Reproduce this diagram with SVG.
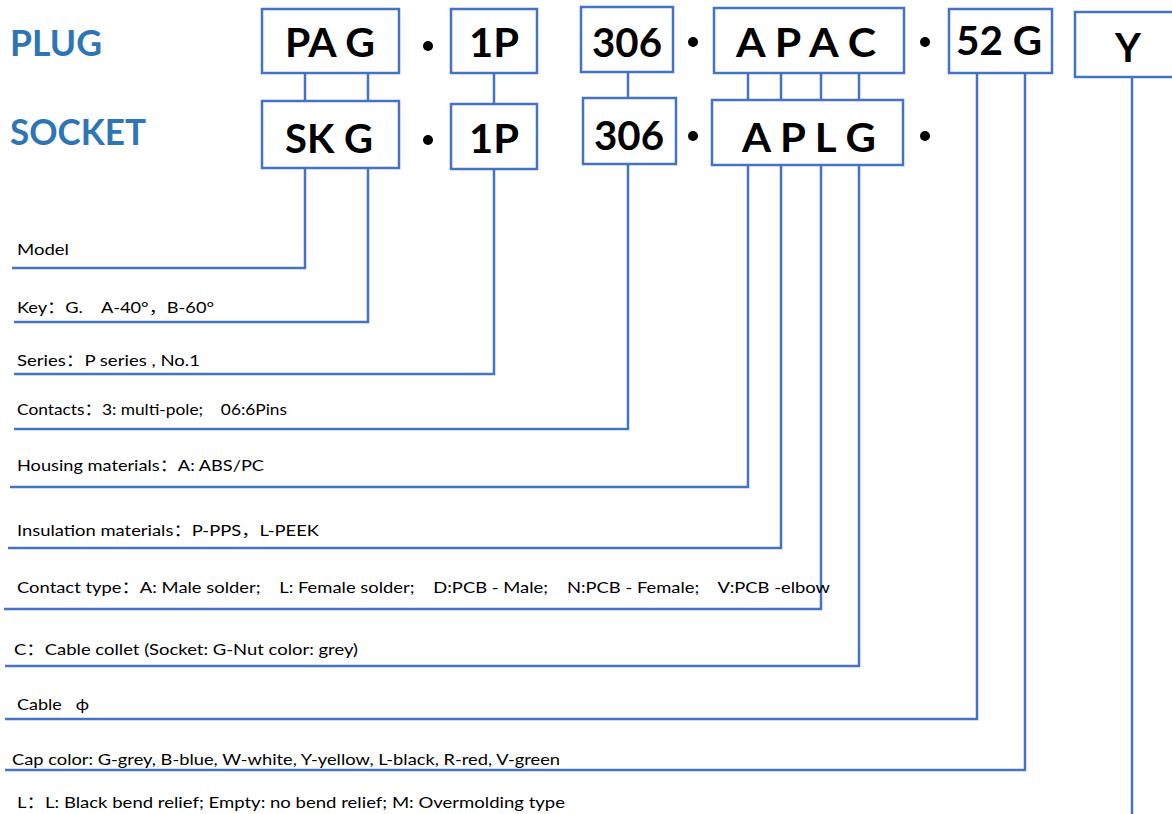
<svg xmlns="http://www.w3.org/2000/svg" width="1172" height="814" viewBox="0 0 1172 814">
<style>
text{white-space:pre}
.box{fill:#fff;stroke:#4472C4;stroke-width:2.5}
.bt{font-family:Lato,"Open Sans",sans-serif;font-weight:bold;font-size:40px;fill:#000;text-anchor:middle}
.hd{font-family:Lato,"Open Sans",sans-serif;font-weight:bold;font-size:36px;fill:#2E75B6}
.lb{font-family:Lato,"Noto Sans CJK SC",sans-serif;font-size:16px;fill:#000}
.ln{fill:none;stroke:#4472C4;stroke-width:2.5}
.dot{fill:#000}
</style>
<rect width="1172" height="814" fill="#fff"/>
<g id="headers">
<text class="hd" x="10" y="56" textLength="92" lengthAdjust="spacingAndGlyphs">PLUG</text>
<text class="hd" x="10" y="145" textLength="136" lengthAdjust="spacingAndGlyphs">SOCKET</text>
</g>
<g id="connectors">
<path class="ln" d="M305 73V101M368 73V101M494 73V104M628 72V98M748 73V100M781 73V100M821 73V100M859 73V100"/>
<path class="ln" d="M305 168V268H12"/>
<path class="ln" d="M368 168V322H14"/>
<path class="ln" d="M494 169V374H14"/>
<path class="ln" d="M628 164V429H14"/>
<path class="ln" d="M748 165V487H10"/>
<path class="ln" d="M781 165V548H8"/>
<path class="ln" d="M821 165V609H4"/>
<path class="ln" d="M859 165V666H5"/>
<path class="ln" d="M977 73V719H5"/>
<path class="ln" d="M1025 73V770H5"/>
<path class="ln" d="M1132 77V814"/>
</g>
<g id="node-pag"><rect class="box" x="262" y="9" width="137" height="64"/><text class="bt" x="330" y="57" textLength="90" lengthAdjust="spacingAndGlyphs">PA G</text></g>
<g id="node-skg"><rect class="box" x="262" y="101" width="137" height="67"/><text class="bt" x="329" y="153" textLength="88" lengthAdjust="spacingAndGlyphs">SK G</text></g>
<g id="node-1p-top"><rect class="box" x="451" y="9" width="86" height="64"/><text class="bt" x="494" y="57" textLength="50" lengthAdjust="spacingAndGlyphs">1P</text></g>
<g id="node-1p-bot"><rect class="box" x="451" y="104" width="86" height="65"/><text class="bt" x="494" y="153" textLength="50" lengthAdjust="spacingAndGlyphs">1P</text></g>
<g id="node-306-top"><rect class="box" x="581" y="7" width="92" height="65"/><text class="bt" x="627" y="57" textLength="70" lengthAdjust="spacingAndGlyphs">306</text></g>
<g id="node-306-bot"><rect class="box" x="583" y="98" width="93" height="66"/><text class="bt" x="629" y="150" textLength="70" lengthAdjust="spacingAndGlyphs">306</text></g>
<g id="node-apac"><rect class="box" x="714" y="8" width="190" height="65"/><text class="bt" x="806" y="57" textLength="140" lengthAdjust="spacingAndGlyphs">A P A C</text></g>
<g id="node-aplg"><rect class="box" x="712" y="100" width="191" height="65"/><text class="bt" x="809" y="152" textLength="134" lengthAdjust="spacingAndGlyphs">A P L G</text></g>
<g id="node-52g"><rect class="box" x="949" y="9" width="103" height="64"/><text class="bt" x="999" y="55" textLength="86" lengthAdjust="spacingAndGlyphs">52 G</text></g>
<g id="node-y"><rect class="box" x="1075" y="12" width="100" height="65"/><text class="bt" x="1128" y="62">Y</text></g>
<g id="dots">
<circle class="dot" cx="428" cy="46" r="5"/><circle class="dot" cx="428" cy="140" r="5"/>
<circle class="dot" cx="693" cy="42" r="5"/><circle class="dot" cx="693" cy="136" r="5"/>
<circle class="dot" cx="925" cy="42" r="5"/><circle class="dot" cx="925" cy="136" r="5"/>
</g>
<g id="labels">
<text class="lb" x="17" y="255" textLength="52" lengthAdjust="spacingAndGlyphs">Model</text>
<text class="lb" x="17" y="313" textLength="197" lengthAdjust="spacingAndGlyphs">Key：G.    A-40°，B-60°</text>
<text class="lb" x="17" y="366" textLength="183" lengthAdjust="spacingAndGlyphs">Series：P series , No.1</text>
<text class="lb" x="17" y="415" textLength="270" lengthAdjust="spacingAndGlyphs">Contacts：3: multi-pole;    06:6Pins</text>
<text class="lb" x="17" y="471" textLength="247" lengthAdjust="spacingAndGlyphs">Housing materials：A: ABS/PC</text>
<text class="lb" x="17" y="536" textLength="302" lengthAdjust="spacingAndGlyphs">Insulation materials：P-PPS，L-PEEK</text>
<text class="lb" x="17" y="593" textLength="813" lengthAdjust="spacingAndGlyphs">Contact type：A: Male solder;    L: Female solder;    D:PCB - Male;    N:PCB - Female;    V:PCB -elbow</text>
<text class="lb" x="14" y="655" textLength="344" lengthAdjust="spacingAndGlyphs">C：Cable collet (Socket: G-Nut color: grey)</text>
<text class="lb" x="17" y="710" textLength="72" lengthAdjust="spacingAndGlyphs">Cable   ϕ</text>
<text class="lb" x="12" y="765" textLength="548" lengthAdjust="spacingAndGlyphs">Cap color: G-grey, B-blue, W-white, Y-yellow, L-black, R-red, V-green</text>
<text class="lb" x="17" y="808" textLength="548" lengthAdjust="spacingAndGlyphs">L：L: Black bend relief; Empty: no bend relief; M: Overmolding type</text>
</g>
</svg>
